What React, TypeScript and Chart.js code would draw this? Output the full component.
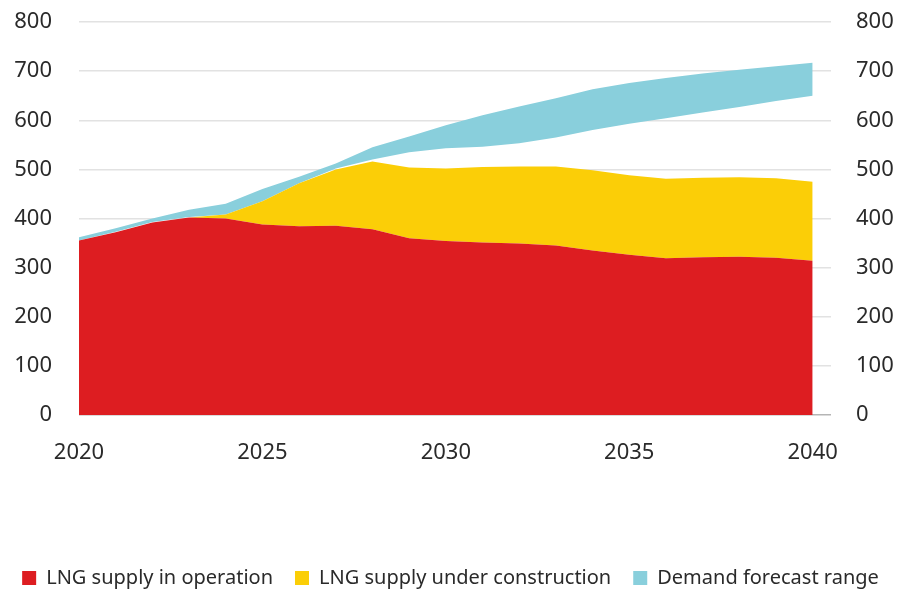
import React, { useEffect, useRef } from "react";
import { Chart, registerables } from "chart.js";

Chart.register(...registerables);

const YEARS = [2020, 2021, 2022, 2023, 2024, 2025, 2026, 2027, 2028, 2029, 2030, 2031, 2032, 2033, 2034, 2035, 2036, 2037, 2038, 2039, 2040];
const IN_OPERATION = [355, 372, 392, 402, 400, 388, 384, 385, 378, 360, 354, 351, 349, 345, 335, 326, 319, 321, 322, 320, 314];
const UNDER_CONSTRUCTION = [0, 0, 0, 0, 8, 47, 88, 115, 138, 144, 148, 154, 157, 161, 163, 162, 162, 162, 162, 162, 161];
const DEMAND_LOW = [355, 373, 393, 403, 408, 435, 472, 502, 520, 535, 543, 546, 553, 565, 580, 593, 604, 616, 627, 639, 650];
const DEMAND_HIGH = [362, 380, 400, 418, 430, 460, 485, 512, 545, 567, 590, 610, 628, 645, 663, 676, 686, 695, 703, 710, 717];
const Y_TICKS = [0, 100, 200, 300, 400, 500, 600, 700, 800];
const X_TICKS = [2020, 2025, 2030, 2035, 2040];

const LABEL_OPERATION = "LNG supply in operation";
const LABEL_CONSTRUCTION = "LNG supply under construction";
const LABEL_DEMAND = "Demand forecast range";

const RED = "#dd1d21";
const YELLOW = "#fbce07";
const BLUE = "#89cfdc";
const TEXT = "#2a2a2a";
const FONT = "'Noto Sans', sans-serif";

export default function App() {
  const ref = useRef<HTMLCanvasElement | null>(null);

  useEffect(() => {
    if (!ref.current) return;
    const pts = (arr: number[]) => YEARS.map((x, i) => ({ x, y: arr[i] }));
    const total = IN_OPERATION.map((v, i) => v + UNDER_CONSTRUCTION[i]);
    const common = { pointRadius: 0, borderWidth: 0, tension: 0 };
    const chart = new Chart(ref.current, {
      type: "line",
      data: {
        datasets: [
          { ...common, label: LABEL_OPERATION, data: pts(IN_OPERATION), backgroundColor: RED, borderColor: RED, fill: "origin" },
          { ...common, label: LABEL_CONSTRUCTION, data: pts(total), backgroundColor: YELLOW, borderColor: YELLOW, fill: "-1" },
          { ...common, label: "", data: pts(DEMAND_LOW), backgroundColor: BLUE, borderColor: "rgba(0,0,0,0)", fill: false },
          { ...common, label: LABEL_DEMAND, data: pts(DEMAND_HIGH), backgroundColor: BLUE, borderColor: BLUE, fill: "-1" },
        ],
      },
      options: {
        animation: false,
        responsive: true,
        maintainAspectRatio: false,
        layout: { padding: { top: 22, bottom: -7, left: 0, right: 0 } },
        plugins: {
          tooltip: { enabled: false },
          legend: {
            position: "bottom",
            labels: {
              boxWidth: 14,
              boxHeight: 14,
              padding: 22,
              color: TEXT,
              font: { family: FONT, size: 20 },
              filter: (item: any) => item.text !== "",
            },
          },
        },
        scales: {
          x: {
            type: "linear",
            min: 2020,
            max: 2040.5,
            grid: { display: false, drawTicks: false },
            border: { display: false },
            afterBuildTicks: (s: any) => { s.ticks = X_TICKS.map((v) => ({ value: v })); },
            ticks: { padding: 25, color: TEXT, font: { family: FONT, size: 22 }, maxRotation: 0, callback: (v: any) => String(v) },
            afterFit: (s: any) => { s.height = 131; },
          },
          y: {
            position: "left",
            min: 0,
            max: 800,
            afterBuildTicks: (s: any) => { s.ticks = Y_TICKS.map((v) => ({ value: v })); },
            grid: {
              drawTicks: true,
              tickLength: 27,
              tickColor: "rgba(0,0,0,0)",
              lineWidth: 1.5,
              color: (c: any) => (c.tick && c.tick.value === 0 ? "#b5b5b5" : "#e2e2e2"),
            },
            border: { display: false },
            ticks: { padding: 0, color: TEXT, font: { family: FONT, size: 22 } },
            afterFit: (s: any) => { s.width = 79; },
          },
          y2: {
            position: "right",
            min: 0,
            max: 800,
            afterBuildTicks: (s: any) => { s.ticks = Y_TICKS.map((v) => ({ value: v })); },
            grid: { display: false, drawTicks: true, tickLength: 25 },
            border: { display: false },
            ticks: { padding: 0, color: TEXT, font: { family: FONT, size: 22 } },
            afterFit: (s: any) => { s.width = 70; },
          },
        },
      } as any,
    });
    return () => chart.destroy();
  }, []);

  return (
    <div style={{ position: "fixed", left: 0, top: 0, width: 901, height: 591, background: "#fff" }}>
      <canvas ref={ref} />
    </div>
  );
}
